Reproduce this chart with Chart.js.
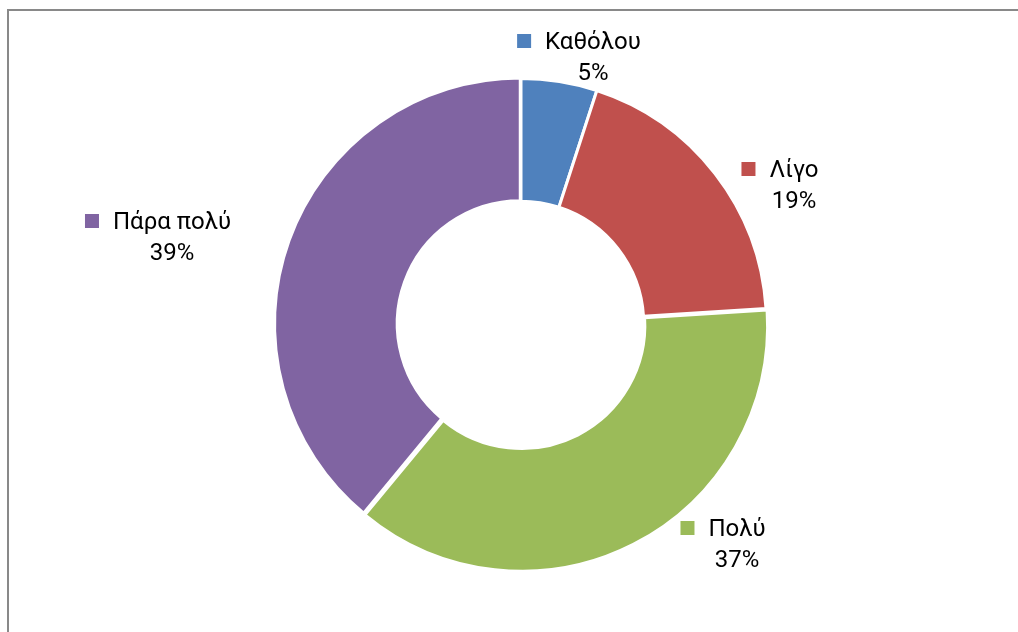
<!DOCTYPE html>
<html lang="el">
<head>
<meta charset="UTF-8">
<script src="https://cdn.jsdelivr.net/npm/chart.js@4/dist/chart.umd.min.js"></script>
<style>
  html, body { margin: 0; padding: 0; background: #fff; overflow: hidden; }
  #frame { position: absolute; left: 7px; top: 9px; width: 1100px; height: 700px; border: 2px solid #898989; }
  #wrap { position: absolute; left: 0; top: 0; width: 1018px; height: 632px; }
</style>
</head>
<body>
<div id="frame"></div>
<div id="wrap"><canvas id="pie" width="1018" height="632"></canvas></div>
<script>
// data
var categories = ["Καθόλου", "Λίγο", "Πολύ", "Πάρα πολύ"];
var values = [5, 19, 37, 39];
var colors = ["#4F81BD", "#C0504D", "#9BBB59", "#8064A2"];
var explode = [0, 0, 6, 3];
// label anchor (text centre, first line) relative to pie centre
var labelPos = [[72, -281], [273, -153], [216, 206], [-349, -101]];

var labelPlugin = {
    id: "sliceLabels",
    afterDatasetsDraw: function (chart) {
        var ctx = chart.ctx;
        var arc0 = chart.getDatasetMeta(0).data[0];
        var cx = arc0.x, cy = arc0.y;
        ctx.save();
        ctx.font = "24px Roboto";
        ctx.textAlign = "center";
        ctx.textBaseline = "middle";
        var total = values.reduce(function (a, b) { return a + b; }, 0);
        for (var i = 0; i < categories.length; i++) {
            var x = cx + labelPos[i][0], y = cy + labelPos[i][1];
            var w = ctx.measureText(categories[i]).width;
            ctx.fillStyle = colors[i];
            ctx.fillRect(x - w / 2 - 28, y - 9, 14, 14);
            ctx.fillStyle = "#000";
            ctx.fillText(categories[i], x, y);
            ctx.fillText(Math.round(values[i] / total * 100) + "%", x, y + 31);
        }
        ctx.restore();
    }
};

var ctx = document.getElementById("pie").getContext("2d");
var chart = new Chart(ctx, {
    type: "doughnut",
    data: {
        labels: categories,
        datasets: [{
            data: values,
            backgroundColor: colors,
            borderColor: "#fff",
            borderWidth: 3,
            offset: explode
        }]
    },
    options: {
        responsive: false,
        animation: false,
        cutout: "50%",
        layout: { padding: { top: 74, bottom: 58, left: 270, right: 246 } },
        plugins: {
            legend: { display: false },
            tooltip: { enabled: false }
        }
    },
    plugins: [labelPlugin]
});
</script>
</body>
</html>
